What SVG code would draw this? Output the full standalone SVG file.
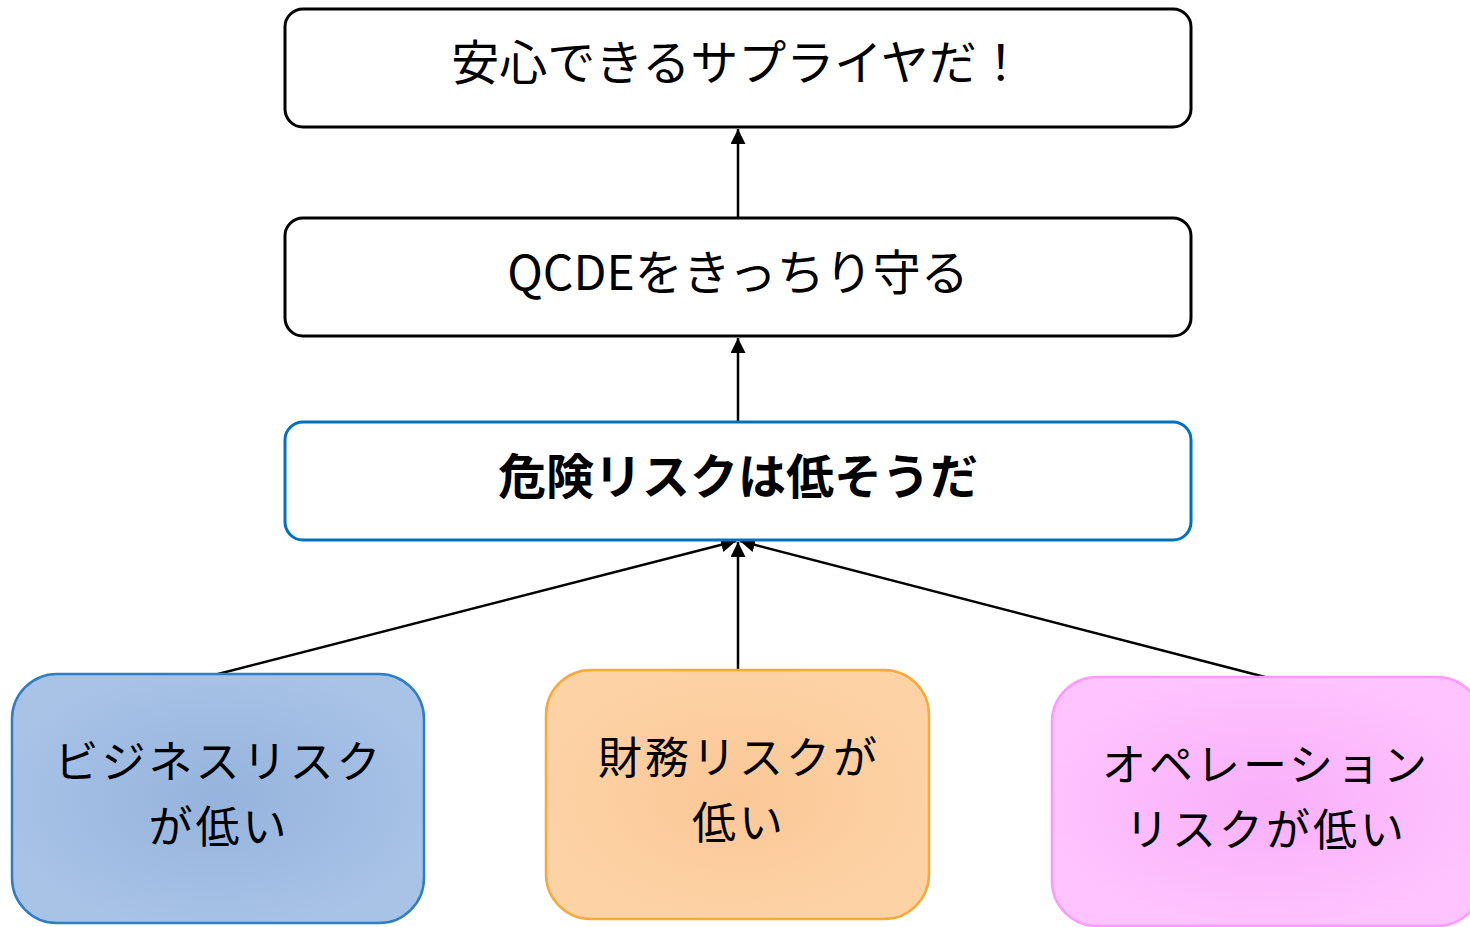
<svg xmlns="http://www.w3.org/2000/svg" width="1470" height="927" viewBox="0 0 1470 927">
<defs>
<style>
.t{font-family:"Noto Sans CJK JP","Noto Sans",sans-serif;font-size:48px;fill:#000;text-anchor:middle;dominant-baseline:central}
.s{font-size:44px;letter-spacing:3px}
.b{font-weight:bold}
.box{fill:#fff;stroke:#000;stroke-width:3}
.con{stroke:#000;stroke-width:2.5;fill:none}
</style>
<radialGradient id="gBlue" cx="50%" cy="50%" r="55%"><stop offset="0" stop-color="#95B3DC"/><stop offset="1" stop-color="#A9C3E7"/></radialGradient>
<radialGradient id="gOrange" cx="50%" cy="50%" r="55%"><stop offset="0" stop-color="#FBC797"/><stop offset="1" stop-color="#FDD3A6"/></radialGradient>
<radialGradient id="gPink" cx="50%" cy="50%" r="55%"><stop offset="0" stop-color="#F9B0F9"/><stop offset="1" stop-color="#FFC4FF"/></radialGradient>
<marker id="ah" viewBox="0 0 10 10" refX="10" refY="5" markerWidth="6" markerHeight="6" markerUnits="strokeWidth" orient="auto"><path d="M0,0 L10,5 L0,10 z" fill="#000"/></marker>
</defs>
<g id="connectors">
<line class="con" x1="738" y1="218" x2="738" y2="129" marker-end="url(#ah)"/>
<line class="con" x1="738" y1="422" x2="738" y2="338" marker-end="url(#ah)"/>
<line class="con" x1="218" y1="674" x2="736" y2="541" marker-end="url(#ah)"/>
<line class="con" x1="738" y1="670" x2="738" y2="542" marker-end="url(#ah)"/>
<line class="con" x1="1265" y1="677" x2="740" y2="541" marker-end="url(#ah)"/>
</g>
<g id="n1">
<rect class="box" x="285" y="9" width="906" height="118" rx="18"/>
<text class="t" x="738" y="59">安心できるサプライヤだ！</text>
</g>
<g id="n2">
<rect class="box" x="285" y="218" width="906" height="118" rx="18"/>
<text class="t" x="738" y="269">QCDEをきっちり守る</text>
</g>
<g id="n3">
<rect class="box" x="285" y="422" width="906" height="118" rx="18" style="stroke:#0070C0"/>
<text class="t b" x="738" y="473">危険リスクは低そうだ</text>
</g>
<g id="n4">
<rect x="12" y="674" width="412" height="249" rx="45" fill="url(#gBlue)" stroke="#2F7EC4" stroke-width="2.5"/>
<text class="t s" x="219" y="759">ビジネスリスク</text>
<text class="t s" x="219" y="824">が低い</text>
</g>
<g id="n5">
<rect x="546" y="670" width="383" height="249" rx="45" fill="url(#gOrange)" stroke="#F9A93A" stroke-width="2.5"/>
<text class="t s" x="739" y="755">財務リスクが</text>
<text class="t s" x="739" y="820">低い</text>
</g>
<g id="n6">
<rect x="1052" y="677" width="430" height="249" rx="45" fill="url(#gPink)" stroke="#FF99FF" stroke-width="2.5"/>
<text class="t s" x="1266" y="762">オペレーション</text>
<text class="t s" x="1266" y="827">リスクが低い</text>
</g>
</svg>
